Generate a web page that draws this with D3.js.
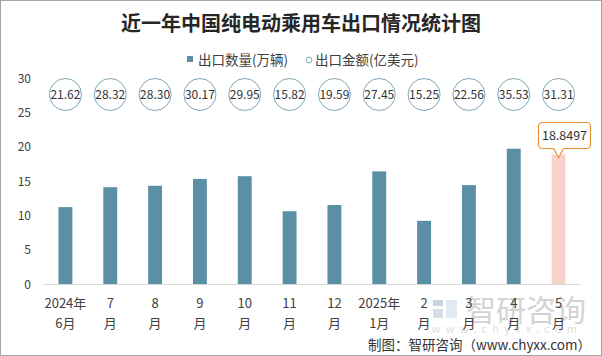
<!DOCTYPE html>
<html><head><meta charset="utf-8">
<script src="https://cdn.jsdelivr.net/npm/d3@7"></script>
<style>
html,body{margin:0;padding:0;background:#fff;}
svg text{font-family:"Noto Sans CJK SC","Noto Sans",sans-serif;}
</style>
</head><body>
<svg id="c" width="602" height="356"></svg>
<script>
const monthsLine1 = ["2024年","7","8","9","10","11","12","2025年","2","3","4","5"];
const monthsLine2 = ["6月","月","月","月","月","月","月","1月","月","月","月","月"];
const exportVolume = [11.2,14.1,14.3,15.3,15.7,10.6,11.5,16.4,9.2,14.4,19.7,18.8497];
const exportAmount = [21.62,28.32,28.30,30.17,29.95,15.82,19.59,27.45,15.25,22.56,35.53,31.31];
const yTicks = [0,5,10,15,20,25,30];
const titleText = "近一年中国纯电动乘用车出口情况统计图";
const legendLabels = ["出口数量(万辆)","出口金额(亿美元)"];

const svg = d3.select("#c");
const W = 602, H = 356;
const idx = d3.range(monthsLine1.length);

// border
svg.append("rect").attr("x",0.5).attr("y",0.5).attr("width",W-1).attr("height",H-1)
  .attr("fill","#fff").attr("stroke","#a6a6a6");

const x = d3.scaleBand().domain(idx).range([43,581]).paddingInner(0.69).paddingOuter(0.345);
const y = d3.scaleLinear().domain([0,30]).range([284,78]);

// watermark
const wm = svg.append("g").attr("opacity",0.55);
wm.append("rect").attr("x",433).attr("y",300).attr("width",10).attr("height",6).attr("fill","#9fb0c8");
wm.append("rect").attr("x",433).attr("y",309).attr("width",10).attr("height",9).attr("fill","#b8c4d8");
wm.append("rect").attr("x",446).attr("y",300).attr("width",11).attr("height",18).attr("fill","#c9d9ea");
wm.append("text").attr("x",526).attr("y",321).attr("text-anchor","middle")
  .attr("font-size",30).attr("fill","#b0b0b0").text("智研咨询");
wm.append("text").attr("x",507).attr("y",333).attr("text-anchor","middle")
  .attr("font-size",11).attr("letter-spacing","5.2px").attr("fill","#c4c4c4").text("www.chyxx.com");

// title
svg.append("text").attr("x",301).attr("y",31).attr("text-anchor","middle")
  .attr("font-size",20).attr("font-weight","bold").attr("fill","#262626").text(titleText);

// legend
svg.append("rect").attr("x",187).attr("y",56).attr("width",6).attr("height",6).attr("fill","#5b8fa6");
svg.append("text").attr("x",198).attr("y",64.5).attr("font-size",13.5).attr("fill","#404040").text(legendLabels[0]);
svg.append("circle").attr("cx",309).attr("cy",60).attr("r",3).attr("fill","#fff").attr("stroke","#86a9ba").attr("stroke-width",1);
svg.append("text").attr("x",315).attr("y",64.5).attr("font-size",13.5).attr("fill","#404040").text(legendLabels[1]);

// y axis labels
svg.append("g").selectAll("text").data(yTicks).join("text")
  .attr("x",31).attr("y",d=>y(d)+4.5).attr("text-anchor","end")
  .attr("font-size",12).attr("fill","#404040").text(d=>d);

// bars
svg.append("g").selectAll("rect").data(idx).join("rect")
  .attr("x",i=>x(i)).attr("width",x.bandwidth())
  .attr("y",i=>y(exportVolume[i])).attr("height",i=>y(0)-y(exportVolume[i]))
  .attr("fill",i=>i===idx.length-1?"#f8d3cb":"#5b8fa6");

// axis line
svg.append("line").attr("x1",43).attr("x2",581).attr("y1",y(0)+0.5).attr("y2",y(0)+0.5)
  .attr("stroke","#d9d9d9").attr("stroke-width",1);

// x labels
const xl = svg.append("g");
xl.selectAll("text.l1").data(idx).join("text").attr("class","l1")
  .attr("x",i=>x(i)+x.bandwidth()/2).attr("y",308).attr("text-anchor","middle")
  .attr("font-size",13).attr("fill","#404040").text(i=>monthsLine1[i]);
xl.selectAll("text.l2").data(idx).join("text").attr("class","l2")
  .attr("x",i=>x(i)+x.bandwidth()/2).attr("y",328).attr("text-anchor","middle")
  .attr("font-size",13).attr("fill","#404040").text(i=>monthsLine2[i]);

// amount circles
const cy = 94.5;
const cg = svg.append("g");
cg.selectAll("ellipse").data(idx).join("ellipse")
  .attr("cx",i=>x(i)+x.bandwidth()/2).attr("cy",cy).attr("rx",16).attr("ry",16)
  .attr("fill","#fff").attr("stroke","#7ea4b6").attr("stroke-width",1);
cg.selectAll("text").data(idx).join("text")
  .attr("x",i=>x(i)+x.bandwidth()/2).attr("y",cy+4.5).attr("text-anchor","middle")
  .attr("font-size",12).attr("fill","#333").text(i=>exportAmount[i].toFixed(2));

// tooltip on last bar
const li = idx.length-1;
const tipX = x(li)+x.bandwidth()/2, tipY = y(exportVolume[li])+3;
const bx0 = 538.5, bx1 = 590.5, by0 = 122.5, by1 = 148.5, r = 4;
const p = d3.path();
p.moveTo(bx0+r,by0); p.lineTo(bx1-r,by0); p.arcTo(bx1,by0,bx1,by0+r,r);
p.lineTo(bx1,by1-r); p.arcTo(bx1,by1,bx1-r,by1,r);
p.lineTo(tipX+5,by1); p.lineTo(tipX,tipY); p.lineTo(tipX-5,by1);
p.lineTo(bx0+r,by1); p.arcTo(bx0,by1,bx0,by1-r,r);
p.lineTo(bx0,by0+r); p.arcTo(bx0,by0,bx0+r,by0,r); p.closePath();
svg.append("path").attr("d",p.toString()).attr("fill","#fff").attr("stroke","#eb8f34").attr("stroke-width",1.2);
svg.append("text").attr("x",(bx0+bx1)/2).attr("y",140).attr("text-anchor","middle")
  .attr("font-size",12.5).attr("fill","#333").text(String(exportVolume[li]));

// footer
svg.append("text").attr("x",591).attr("y",350).attr("text-anchor","end")
  .attr("font-size",13.5).attr("fill","#333").text("制图：智研咨询（www.chyxx.com）");
</script>
</body></html>
